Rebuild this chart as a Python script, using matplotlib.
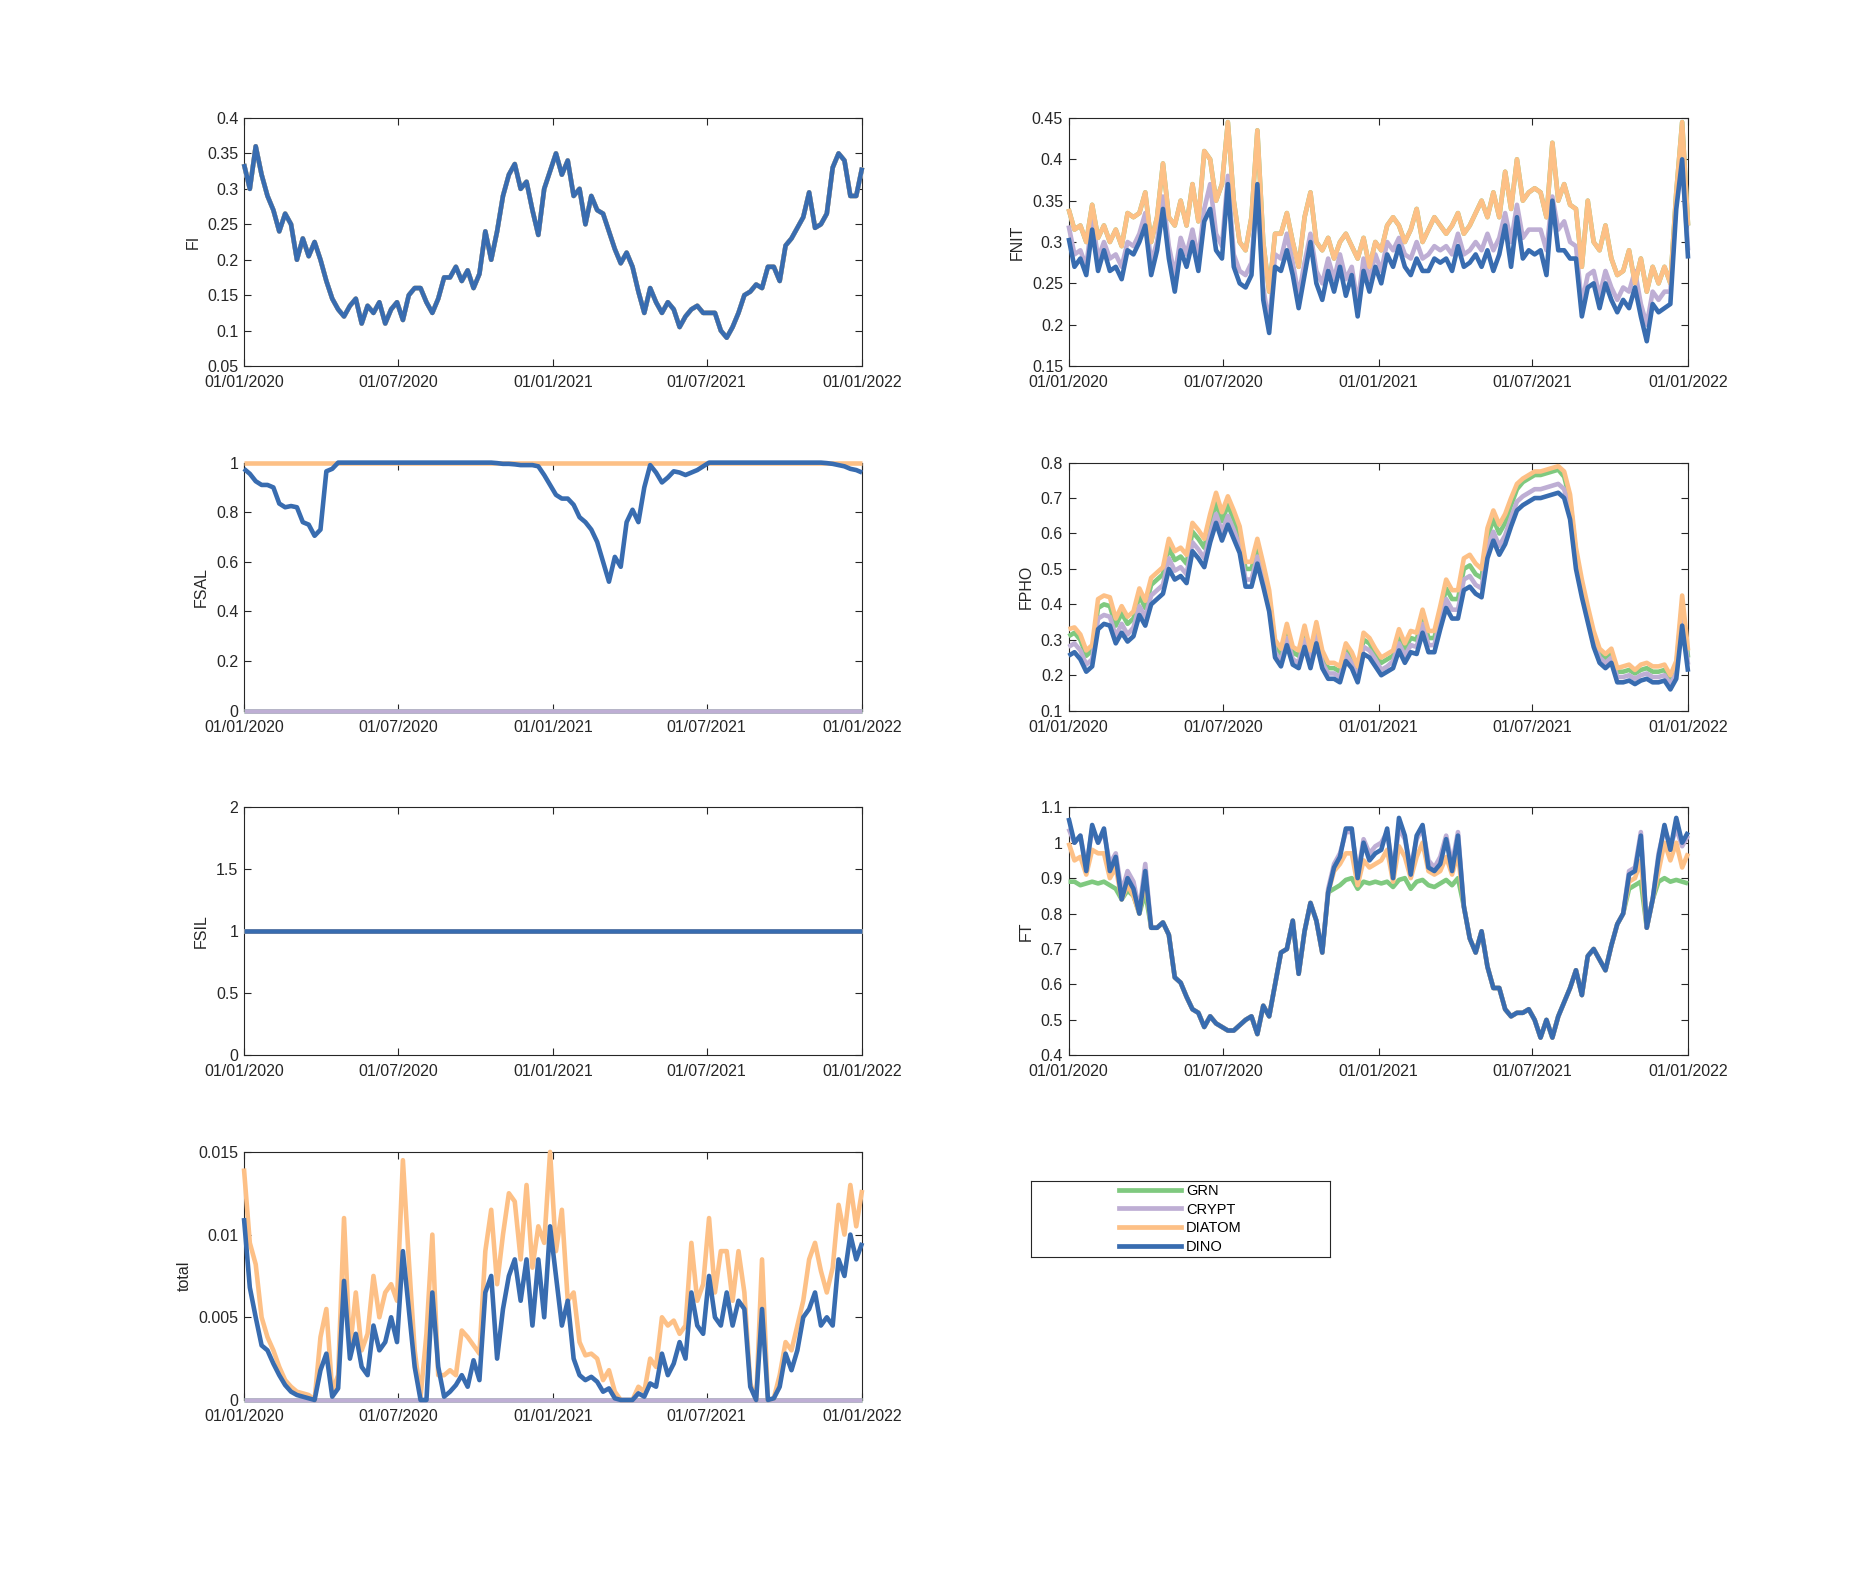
"""
Phytoplankton limitation factors, 2020-2021 (4x2 subplot layout)
"""

import numpy as np
import pandas as pd
import matplotlib
matplotlib.use('Agg')
import matplotlib.pyplot as plt
import matplotlib.dates as mdates
from matplotlib.ticker import FuncFormatter

plt.rcParams['font.family'] = ['Liberation Sans', 'DejaVu Sans']

# ---- data (~weekly samples) ----
dates = pd.date_range('2020-01-01', '2022-01-01', periods=106)

groups = ['GRN', 'CRYPT', 'DIATOM', 'DINO']
colors = ['#7fc97f', '#beaed4', '#fdc086', '#386cb0']

fi_all = [0.335, 0.30, 0.36, 0.32, 0.29, 0.27, 0.24, 0.265, 0.25, 0.20,
          0.23, 0.205, 0.225, 0.20, 0.17, 0.145, 0.13, 0.12, 0.135, 0.145,
          0.11, 0.135, 0.125, 0.14, 0.11, 0.13, 0.14, 0.115, 0.15, 0.16,
          0.16, 0.14, 0.125, 0.145, 0.175, 0.175, 0.19, 0.17, 0.185, 0.16,
          0.18, 0.24, 0.20, 0.24, 0.29, 0.32, 0.335, 0.30, 0.31, 0.27,
          0.235, 0.30, 0.325, 0.35, 0.32, 0.34, 0.29, 0.30, 0.25, 0.29,
          0.27, 0.265, 0.24, 0.215, 0.195, 0.21, 0.19, 0.155, 0.125, 0.16,
          0.14, 0.125, 0.14, 0.13, 0.105, 0.12, 0.13, 0.135, 0.125, 0.125,
          0.125, 0.10, 0.09, 0.105, 0.125, 0.15, 0.155, 0.165, 0.16, 0.19,
          0.19, 0.17, 0.22, 0.23, 0.245, 0.26, 0.295, 0.245, 0.25, 0.265,
          0.33, 0.35, 0.34, 0.29, 0.29, 0.33]

fnit_dino = [0.305, 0.27, 0.28, 0.26, 0.315, 0.265, 0.29, 0.265, 0.27, 0.255,
             0.29, 0.285, 0.30, 0.32, 0.26, 0.29, 0.34, 0.28, 0.24, 0.29,
             0.27, 0.30, 0.265, 0.325, 0.34, 0.29, 0.28, 0.37, 0.27, 0.25,
             0.245, 0.26, 0.37, 0.23, 0.19, 0.27, 0.265, 0.29, 0.26, 0.22,
             0.26, 0.30, 0.25, 0.23, 0.265, 0.24, 0.27, 0.235, 0.26, 0.21,
             0.265, 0.24, 0.27, 0.25, 0.285, 0.27, 0.295, 0.27, 0.26, 0.28,
             0.265, 0.265, 0.28, 0.275, 0.28, 0.265, 0.295, 0.27, 0.275, 0.285,
             0.27, 0.29, 0.265, 0.285, 0.32, 0.27, 0.33, 0.28, 0.29, 0.285,
             0.29, 0.26, 0.35, 0.29, 0.29, 0.28, 0.28, 0.21, 0.245, 0.25,
             0.22, 0.25, 0.23, 0.215, 0.23, 0.22, 0.245, 0.21, 0.18, 0.225,
             0.215, 0.22, 0.225, 0.34, 0.40, 0.28]
fnit_crypt = [0.32, 0.285, 0.29, 0.27, 0.33, 0.28, 0.30, 0.28, 0.285, 0.27,
              0.30, 0.295, 0.31, 0.335, 0.275, 0.30, 0.355, 0.295, 0.26, 0.305,
              0.285, 0.315, 0.28, 0.34, 0.37, 0.31, 0.295, 0.38, 0.285, 0.265,
              0.26, 0.275, 0.37, 0.245, 0.20, 0.285, 0.28, 0.31, 0.275, 0.235,
              0.275, 0.31, 0.265, 0.25, 0.28, 0.255, 0.285, 0.255, 0.27, 0.225,
              0.28, 0.255, 0.285, 0.265, 0.30, 0.29, 0.305, 0.285, 0.28, 0.30,
              0.28, 0.285, 0.295, 0.29, 0.295, 0.285, 0.31, 0.285, 0.29, 0.30,
              0.29, 0.31, 0.29, 0.305, 0.335, 0.30, 0.345, 0.305, 0.315, 0.315,
              0.315, 0.29, 0.355, 0.315, 0.325, 0.30, 0.295, 0.225, 0.26, 0.265,
              0.235, 0.265, 0.245, 0.23, 0.245, 0.24, 0.265, 0.225, 0.20, 0.24,
              0.23, 0.24, 0.24, 0.35, 0.395, 0.29]
fnit_diatom = [0.34, 0.315, 0.32, 0.30, 0.345, 0.305, 0.32, 0.30, 0.315, 0.295,
               0.335, 0.33, 0.335, 0.36, 0.30, 0.33, 0.395, 0.33, 0.32, 0.35,
               0.32, 0.37, 0.325, 0.41, 0.40, 0.35, 0.37, 0.445, 0.35, 0.30,
               0.29, 0.33, 0.435, 0.30, 0.24, 0.31, 0.31, 0.335, 0.30, 0.27,
               0.33, 0.36, 0.30, 0.29, 0.305, 0.28, 0.30, 0.31, 0.295, 0.28,
               0.305, 0.27, 0.30, 0.29, 0.32, 0.33, 0.32, 0.30, 0.315, 0.34,
               0.30, 0.315, 0.33, 0.32, 0.31, 0.32, 0.335, 0.31, 0.32, 0.335,
               0.35, 0.33, 0.36, 0.33, 0.385, 0.34, 0.40, 0.35, 0.36, 0.365,
               0.36, 0.33, 0.42, 0.35, 0.37, 0.345, 0.34, 0.27, 0.35, 0.30,
               0.29, 0.32, 0.28, 0.26, 0.265, 0.29, 0.25, 0.28, 0.24, 0.27,
               0.25, 0.27, 0.25, 0.36, 0.445, 0.32]
fnit_grn = fnit_diatom  # hidden under DIATOM

fsal_zero = [0.0] * 106
fsal_diatom = [1.0] * 106
fsal_dino = [0.975, 0.955, 0.925, 0.91, 0.91, 0.90, 0.835, 0.82, 0.825, 0.82,
             0.76, 0.75, 0.705, 0.73, 0.965, 0.975, 1.0, 1.0, 1.0, 1.0,
             1.0, 1.0, 1.0, 1.0, 1.0, 1.0, 1.0, 1.0, 1.0, 1.0,
             1.0, 1.0, 1.0, 1.0, 1.0, 1.0, 1.0, 1.0, 1.0, 1.0,
             1.0, 1.0, 1.0, 0.998, 0.995, 0.995, 0.993, 0.99, 0.99, 0.99,
             0.985, 0.95, 0.91, 0.87, 0.855, 0.855, 0.83, 0.78, 0.76, 0.73,
             0.68, 0.60, 0.52, 0.62, 0.58, 0.76, 0.81, 0.76, 0.90, 0.99,
             0.96, 0.92, 0.94, 0.965, 0.96, 0.95, 0.96, 0.97, 0.985, 1.0,
             1.0, 1.0, 1.0, 1.0, 1.0, 1.0, 1.0, 1.0, 1.0, 1.0,
             1.0, 1.0, 1.0, 1.0, 1.0, 1.0, 1.0, 1.0, 1.0, 0.998,
             0.995, 0.99, 0.985, 0.975, 0.97, 0.96]

fsil_all = [1.0] * 106

fpho_dino = [0.255, 0.265, 0.245, 0.21, 0.225, 0.33, 0.345, 0.34, 0.29, 0.32,
             0.295, 0.31, 0.37, 0.34, 0.40, 0.415, 0.43, 0.50, 0.47, 0.48,
             0.46, 0.55, 0.53, 0.505, 0.575, 0.63, 0.58, 0.625, 0.585, 0.545,
             0.45, 0.45, 0.515, 0.45, 0.38, 0.25, 0.225, 0.285, 0.23, 0.22,
             0.28, 0.22, 0.29, 0.22, 0.19, 0.19, 0.18, 0.24, 0.22, 0.18,
             0.26, 0.25, 0.225, 0.20, 0.21, 0.22, 0.27, 0.235, 0.265, 0.26,
             0.32, 0.265, 0.265, 0.33, 0.39, 0.36, 0.36, 0.44, 0.45, 0.43,
             0.42, 0.53, 0.58, 0.54, 0.57, 0.62, 0.665, 0.68, 0.69, 0.70,
             0.70, 0.705, 0.71, 0.715, 0.70, 0.64, 0.50, 0.42, 0.35, 0.28,
             0.235, 0.22, 0.235, 0.18, 0.18, 0.185, 0.175, 0.185, 0.19, 0.18,
             0.18, 0.185, 0.16, 0.19, 0.34, 0.21]
fpho_crypt = [0.28, 0.29, 0.27, 0.23, 0.245, 0.36, 0.37, 0.365, 0.31, 0.345,
              0.315, 0.335, 0.395, 0.365, 0.425, 0.44, 0.455, 0.53, 0.495, 0.505,
              0.485, 0.575, 0.555, 0.53, 0.60, 0.655, 0.605, 0.65, 0.61, 0.565,
              0.47, 0.47, 0.535, 0.47, 0.40, 0.265, 0.24, 0.305, 0.245, 0.235,
              0.30, 0.235, 0.31, 0.235, 0.205, 0.205, 0.195, 0.26, 0.235, 0.195,
              0.28, 0.27, 0.245, 0.215, 0.225, 0.24, 0.29, 0.255, 0.285, 0.28,
              0.345, 0.285, 0.285, 0.355, 0.415, 0.385, 0.385, 0.47, 0.48, 0.455,
              0.445, 0.56, 0.605, 0.565, 0.595, 0.645, 0.69, 0.705, 0.715, 0.725,
              0.725, 0.73, 0.735, 0.74, 0.725, 0.66, 0.515, 0.435, 0.365, 0.295,
              0.25, 0.235, 0.25, 0.195, 0.195, 0.20, 0.19, 0.20, 0.205, 0.195,
              0.195, 0.20, 0.175, 0.205, 0.37, 0.23]
fpho_grn = [0.31, 0.32, 0.30, 0.255, 0.27, 0.39, 0.40, 0.395, 0.34, 0.375,
            0.345, 0.36, 0.425, 0.39, 0.455, 0.47, 0.485, 0.56, 0.525, 0.535,
            0.515, 0.605, 0.585, 0.56, 0.63, 0.685, 0.635, 0.68, 0.64, 0.595,
            0.50, 0.50, 0.56, 0.495, 0.42, 0.285, 0.26, 0.325, 0.265, 0.255,
            0.32, 0.255, 0.33, 0.255, 0.22, 0.22, 0.21, 0.275, 0.25, 0.21,
            0.30, 0.29, 0.26, 0.235, 0.245, 0.255, 0.31, 0.275, 0.305, 0.30,
            0.365, 0.305, 0.305, 0.375, 0.445, 0.415, 0.415, 0.50, 0.51, 0.485,
            0.475, 0.59, 0.64, 0.60, 0.63, 0.68, 0.725, 0.745, 0.755, 0.765,
            0.765, 0.77, 0.775, 0.78, 0.76, 0.695, 0.545, 0.455, 0.38, 0.31,
            0.265, 0.245, 0.26, 0.21, 0.21, 0.215, 0.205, 0.215, 0.22, 0.21,
            0.21, 0.215, 0.19, 0.225, 0.40, 0.25]
fpho_diatom = [0.33, 0.335, 0.315, 0.27, 0.285, 0.415, 0.425, 0.42, 0.36, 0.395,
               0.365, 0.38, 0.445, 0.41, 0.475, 0.49, 0.505, 0.585, 0.55, 0.56,
               0.54, 0.63, 0.61, 0.585, 0.655, 0.715, 0.66, 0.705, 0.665, 0.62,
               0.52, 0.52, 0.585, 0.515, 0.44, 0.30, 0.275, 0.345, 0.28, 0.27,
               0.34, 0.27, 0.35, 0.27, 0.235, 0.235, 0.225, 0.29, 0.265, 0.225,
               0.32, 0.305, 0.275, 0.25, 0.26, 0.27, 0.33, 0.29, 0.325, 0.32,
               0.385, 0.325, 0.325, 0.395, 0.47, 0.44, 0.44, 0.53, 0.54, 0.515,
               0.50, 0.615, 0.665, 0.625, 0.655, 0.70, 0.74, 0.755, 0.765, 0.775,
               0.775, 0.78, 0.785, 0.79, 0.775, 0.71, 0.56, 0.47, 0.395, 0.325,
               0.275, 0.26, 0.275, 0.22, 0.225, 0.23, 0.215, 0.23, 0.235, 0.225,
               0.225, 0.23, 0.20, 0.24, 0.425, 0.27]

ft_dino = [1.07, 1.0, 1.02, 0.92, 1.05, 1.0, 1.04, 0.92, 0.96, 0.84,
           0.90, 0.87, 0.80, 0.92, 0.76, 0.76, 0.775, 0.74, 0.62, 0.605,
           0.565, 0.53, 0.52, 0.48, 0.51, 0.49, 0.48, 0.47, 0.47, 0.485,
           0.50, 0.51, 0.46, 0.54, 0.51, 0.60, 0.69, 0.70, 0.78, 0.63,
           0.75, 0.83, 0.78, 0.69, 0.86, 0.93, 0.96, 1.04, 1.04, 0.90,
           1.0, 0.95, 0.97, 0.98, 1.04, 0.90, 1.07, 1.02, 0.91, 1.02,
           1.05, 0.93, 0.92, 0.94, 1.01, 0.92, 1.02, 0.82, 0.73, 0.69,
           0.75, 0.65, 0.59, 0.59, 0.53, 0.51, 0.52, 0.52, 0.53, 0.50,
           0.45, 0.50, 0.45, 0.51, 0.55, 0.59, 0.64, 0.57, 0.68, 0.70,
           0.67, 0.64, 0.71, 0.77, 0.80, 0.91, 0.92, 1.02, 0.76, 0.84,
           0.96, 1.05, 0.98, 1.07, 1.00, 1.03]
ft_crypt = [1.04, 1.0, 1.02, 0.93, 1.04, 1.0, 1.03, 0.94, 0.97, 0.86,
            0.92, 0.89, 0.81, 0.94, 0.76, 0.76, 0.775, 0.74, 0.62, 0.605,
            0.565, 0.53, 0.52, 0.48, 0.51, 0.49, 0.48, 0.47, 0.47, 0.485,
            0.50, 0.51, 0.46, 0.54, 0.51, 0.60, 0.69, 0.70, 0.78, 0.63,
            0.75, 0.83, 0.78, 0.69, 0.87, 0.94, 0.97, 1.03, 1.03, 0.91,
            1.01, 0.97, 0.99, 1.0, 1.03, 0.92, 1.04, 1.01, 0.93, 1.01,
            1.04, 0.95, 0.93, 0.96, 1.02, 0.94, 1.03, 0.82, 0.73, 0.69,
            0.75, 0.65, 0.59, 0.59, 0.53, 0.51, 0.52, 0.52, 0.53, 0.50,
            0.45, 0.50, 0.45, 0.51, 0.55, 0.59, 0.64, 0.57, 0.68, 0.70,
            0.67, 0.64, 0.71, 0.77, 0.80, 0.92, 0.93, 1.03, 0.76, 0.84,
            0.97, 1.04, 0.99, 1.04, 0.99, 1.02]
ft_diatom = [1.0, 0.95, 0.96, 0.91, 0.98, 0.97, 0.97, 0.90, 0.93, 0.84,
             0.88, 0.85, 0.80, 0.90, 0.76, 0.76, 0.775, 0.74, 0.62, 0.605,
             0.565, 0.53, 0.52, 0.48, 0.51, 0.49, 0.48, 0.47, 0.47, 0.485,
             0.50, 0.51, 0.46, 0.54, 0.51, 0.60, 0.69, 0.70, 0.78, 0.63,
             0.75, 0.83, 0.78, 0.69, 0.86, 0.92, 0.94, 0.97, 0.97, 0.88,
             0.95, 0.93, 0.94, 0.95, 0.98, 0.89, 0.99, 0.96, 0.90, 0.96,
             1.0, 0.92, 0.91, 0.92, 0.96, 0.91, 0.97, 0.82, 0.73, 0.69,
             0.75, 0.65, 0.59, 0.59, 0.53, 0.51, 0.52, 0.52, 0.53, 0.50,
             0.45, 0.50, 0.45, 0.51, 0.55, 0.59, 0.64, 0.57, 0.68, 0.70,
             0.67, 0.64, 0.71, 0.77, 0.80, 0.89, 0.90, 0.95, 0.76, 0.84,
             0.92, 1.0, 0.95, 1.0, 0.93, 0.97]
ft_grn = [0.89, 0.89, 0.88, 0.885, 0.89, 0.885, 0.89, 0.88, 0.87, 0.84,
          0.865, 0.85, 0.80, 0.86, 0.76, 0.76, 0.775, 0.74, 0.62, 0.605,
          0.565, 0.53, 0.52, 0.48, 0.51, 0.49, 0.48, 0.47, 0.47, 0.485,
          0.50, 0.51, 0.46, 0.54, 0.51, 0.60, 0.69, 0.70, 0.78, 0.63,
          0.75, 0.83, 0.78, 0.69, 0.86, 0.87, 0.88, 0.895, 0.90, 0.87,
          0.89, 0.885, 0.89, 0.885, 0.89, 0.875, 0.895, 0.90, 0.87, 0.89,
          0.895, 0.88, 0.875, 0.885, 0.895, 0.88, 0.90, 0.82, 0.73, 0.69,
          0.75, 0.65, 0.59, 0.59, 0.53, 0.51, 0.52, 0.52, 0.53, 0.50,
          0.45, 0.50, 0.45, 0.51, 0.55, 0.59, 0.64, 0.57, 0.68, 0.70,
          0.67, 0.64, 0.71, 0.77, 0.80, 0.87, 0.88, 0.89, 0.76, 0.84,
          0.89, 0.90, 0.89, 0.895, 0.89, 0.885]

total_zero = [0.0] * 106
total_dino = [0.011, 0.0068, 0.005, 0.0033, 0.003, 0.0022, 0.0015, 0.0009, 0.0005, 0.0003,
              0.0002, 0.0001, 0.0, 0.0018, 0.0028, 0.0002, 0.0007, 0.0072, 0.0025, 0.004,
              0.002, 0.0015, 0.0045, 0.003, 0.0035, 0.005, 0.0035, 0.009, 0.0055, 0.002,
              0.0, 0.0, 0.0065, 0.002, 0.0002, 0.0005, 0.0009, 0.0015, 0.0008, 0.0024,
              0.0012, 0.0065, 0.0075, 0.0025, 0.0055, 0.0075, 0.0085, 0.006, 0.0085, 0.0045,
              0.0085, 0.005, 0.0105, 0.0075, 0.0045, 0.006, 0.0025, 0.0015, 0.0012, 0.0014,
              0.0011, 0.0005, 0.0007, 0.0001, 0.0, 0.0, 0.0, 0.0004, 0.0002, 0.001,
              0.0008, 0.0028, 0.0015, 0.0022, 0.0035, 0.0025, 0.0065, 0.0045, 0.004, 0.0075,
              0.005, 0.0045, 0.0065, 0.0045, 0.006, 0.0055, 0.0008, 0.0, 0.0055, 0.0,
              0.0001, 0.0008, 0.0028, 0.0018, 0.003, 0.005, 0.0055, 0.0065, 0.0045, 0.005,
              0.0045, 0.0085, 0.0075, 0.01, 0.0085, 0.0095]
total_diatom = [0.014, 0.0095, 0.0082, 0.005, 0.0038, 0.003, 0.002, 0.0012, 0.0008, 0.0005,
                0.0004, 0.0003, 0.0, 0.0038, 0.0055, 0.0005, 0.0015, 0.011, 0.003, 0.0065,
                0.003, 0.004, 0.0075, 0.005, 0.0065, 0.007, 0.006, 0.0145, 0.0085, 0.003,
                0.0002, 0.004, 0.01, 0.0015, 0.0015, 0.0018, 0.0015, 0.0042, 0.0038, 0.0033,
                0.0028, 0.009, 0.0115, 0.007, 0.01, 0.0125, 0.012, 0.0085, 0.013, 0.008,
                0.0105, 0.0095, 0.015, 0.009, 0.0115, 0.006, 0.0065, 0.0035, 0.0027, 0.0028,
                0.0025, 0.0012, 0.0018, 0.0005, 0.0, 0.0, 0.0, 0.0008, 0.0005, 0.0025,
                0.002, 0.005, 0.0045, 0.0048, 0.004, 0.0045, 0.0095, 0.006, 0.007, 0.011,
                0.0065, 0.009, 0.009, 0.006, 0.009, 0.0065, 0.001, 0.0, 0.0085, 0.0,
                0.0001, 0.0015, 0.0035, 0.003, 0.0045, 0.006, 0.0085, 0.0095, 0.0078, 0.0065,
                0.008, 0.0118, 0.01, 0.013, 0.0105, 0.0127]

x_ticks = pd.to_datetime(['2020-01-01', '2020-07-01', '2021-01-01',
                          '2021-07-01', '2022-01-01'])

# panel: (label, [GRN, CRYPT, DIATOM, DINO], y limits, y ticks)
panels = [
    ('FI', [fi_all, fi_all, fi_all, fi_all], (0.05, 0.4), np.arange(0.05, 0.401, 0.05)),
    ('FNIT', [fnit_grn, fnit_crypt, fnit_diatom, fnit_dino], (0.15, 0.45), np.arange(0.15, 0.451, 0.05)),
    ('FSAL', [fsal_zero, fsal_zero, fsal_diatom, fsal_dino], (0, 1), np.arange(0, 1.01, 0.2)),
    ('FPHO', [fpho_grn, fpho_crypt, fpho_diatom, fpho_dino], (0.1, 0.8), np.arange(0.1, 0.801, 0.1)),
    ('FSIL', [fsil_all, fsil_all, fsil_all, fsil_all], (0, 2), np.arange(0, 2.01, 0.5)),
    ('FT', [ft_grn, ft_crypt, ft_diatom, ft_dino], (0.4, 1.1), np.arange(0.4, 1.101, 0.1)),
    ('total', [total_zero, total_zero, total_diatom, total_dino], (0, 0.015), np.arange(0, 0.0151, 0.005)),
]

W, H = 1875, 1573
fig = plt.figure(figsize=(W / 100, H / 100), dpi=100)

col_left = [0.1301, 0.5699]
col_width = [0.3297, 0.3304]
row_bottom = [0.7673, 0.5482, 0.3291, 0.1100]
row_height = 0.1577
text_color = '#262626'

for i, (name, series, ylim, yticks) in enumerate(panels):
    r, c = divmod(i, 2)
    ax = fig.add_axes([col_left[c], row_bottom[r], col_width[c], row_height])
    for s, col, lab in zip(series, colors, groups):
        # not clipped, drawn above the box like MATLAB does
        ax.plot(dates, s, color=col, lw=3.3, label=lab, clip_on=False, zorder=3,
                solid_joinstyle='round', solid_capstyle='butt')
    ax.set_xlim(pd.Timestamp('2020-01-01'), pd.Timestamp('2022-01-01'))
    ax.set_ylim(*ylim)
    ax.set_yticks(yticks)
    ax.yaxis.set_major_formatter(FuncFormatter(lambda v, p: f'{round(v, 6):g}'))
    ax.set_xticks(x_ticks)
    ax.xaxis.set_major_formatter(mdates.DateFormatter('%d/%m/%Y'))
    ax.tick_params(direction='in', top=True, right=True, length=5, width=0.8,
                   labelsize=11.5, colors=text_color, pad=4)
    ax.tick_params(axis='x', pad=6.5)
    for sp in ax.spines.values():
        sp.set_linewidth(0.8)
        sp.set_color(text_color)
    ax.set_ylabel(name, fontsize=11.5, color=text_color, labelpad=5)

# legend in a boxed area (subplot 8 slot)
handles = [plt.Line2D([], [], color=col, lw=3.4) for col in colors]
box = fig.add_axes([1031 / W, 1 - 1257 / H, 299 / W, 76 / H])
box.set_xticks([])
box.set_yticks([])
for sp in box.spines.values():
    sp.set_linewidth(0.8)
    sp.set_color(text_color)
fig.legend(handles, groups, loc='center',
           bbox_to_anchor=((1031 + 1330) / 2 / W, 1 - 1219 / H),
           frameon=False, fontsize=10.5, handlelength=4.2, handletextpad=0.35,
           labelspacing=0.33, borderpad=0)

fig.savefig('out.png', dpi=100)
